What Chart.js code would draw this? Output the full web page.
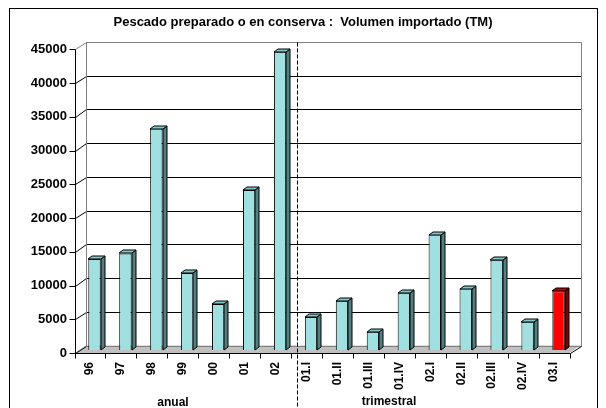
<!DOCTYPE html>
<html>
<head>
<meta charset="utf-8">
<script src="https://cdn.jsdelivr.net/npm/chart.js@4.4.1/dist/chart.umd.min.js"></script>
<style>
    html, body { margin: 0; padding: 0; background: #fff; }
</style>
</head>
<body>
<canvas id="grafico" width="606" height="408"></canvas>
<script>
var etichette = ['96', '97', '98', '99', '00', '01', '02', '01.I', '01.II', '01.III', '01.IV', '02.I', '02.II', '02.III', '02.IV', '03.I'];
var volumi = [13500, 14300, 32800, 11400, 6800, 23700, 44200, 4900, 7300, 2700, 8400, 17100, 9100, 13300, 4200, 8700];
var evidenziato = [false, false, false, false, false, false, false, false, false, false, false, false, false, false, false, true];
var gruppi = ['anual', 'trimestral'];
var titolo = 'Pescado preparado o en conserva :  Volumen importado (TM)';

var FONT = 'Arial, "Liberation Sans", sans-serif';
// spostamenti della prospettiva (px)
var PROF_X = 4, PROF_Y = -3;        // spessore barre
var RETRO_X = 6.5, RETRO_Y = -4.5;  // parete di fondo
var FRONTE_X = -4.5, FRONTE_Y = 3;  // bordo anteriore

var coloreFronte = evidenziato.map(function (e) { return e ? '#ff0000' : '#a0e0e0'; });
var coloreLato = evidenziato.map(function (e) { return e ? '#800000' : '#508080'; });
var coloreSopra = evidenziato.map(function (e) { return e ? '#c00000' : '#80c8c8'; });

function px(v) {
    return Math.round(v) + 0.5;
}

function linea(c, x1, y1, x2, y2, colore) {
    c.strokeStyle = colore;
    c.beginPath();
    c.moveTo(x1, y1);
    c.lineTo(x2, y2);
    c.stroke();
}

var tridimensionale = {
    id: 'tridimensionale',
    beforeDatasetsDraw: function (chart) {
        var c = chart.ctx;
        var a = chart.chartArea;
        var sy = chart.scales.y;
        var zero = sy.getPixelForValue(0);
        c.save();
        c.lineWidth = 1;

        // pavimento
        c.fillStyle = '#c0c0c0';
        c.beginPath();
        c.moveTo(a.left + FRONTE_X, zero + FRONTE_Y);
        c.lineTo(a.right + FRONTE_X, zero + FRONTE_Y);
        c.lineTo(a.right + RETRO_X, zero + RETRO_Y);
        c.lineTo(a.left + RETRO_X, zero + RETRO_Y);
        c.closePath();
        c.fill();

        // griglia su parete di fondo e parete sinistra
        sy.ticks.forEach(function (t) {
            var yp = sy.getPixelForValue(t.value);
            var yb = px(yp + RETRO_Y);
            var yf = px(yp + FRONTE_Y);
            var colore = (t.value === 0 || t.value === sy.max) ? '#808080' : '#000';
            linea(c, px(a.left + RETRO_X), yb, px(a.right + RETRO_X), yb, colore);
            linea(c, px(a.left + FRONTE_X), yf, px(a.left + RETRO_X), yb, t.value === 0 ? '#000' : colore);
            linea(c, px(a.left + FRONTE_X) - 6, yf, px(a.left + FRONTE_X), yf, '#000');
        });

        // bordi pareti
        var top = sy.getPixelForValue(sy.max);
        linea(c, px(a.left + RETRO_X), px(top + RETRO_Y), px(a.left + RETRO_X), px(zero + RETRO_Y), '#808080');
        linea(c, px(a.right + RETRO_X), px(top + RETRO_Y), px(a.right + RETRO_X), px(zero + RETRO_Y), '#808080');
        linea(c, px(a.left + FRONTE_X), px(top + FRONTE_Y), px(a.left + FRONTE_X), px(zero + FRONTE_Y), '#000');
        linea(c, px(a.left + FRONTE_X), px(zero + FRONTE_Y), px(a.right + FRONTE_X), px(zero + FRONTE_Y), '#000');
        linea(c, px(a.right + FRONTE_X), px(zero + FRONTE_Y), px(a.right + RETRO_X), px(zero + RETRO_Y), '#000');

        // tacche asse x
        var n = etichette.length;
        for (var i = 0; i <= n; i++) {
            var xt = px(a.left + i * a.width / n + FRONTE_X);
            linea(c, xt, px(zero + FRONTE_Y), xt, px(zero + FRONTE_Y) + 5, '#000');
        }
        c.restore();
    },
    afterDatasetsDraw: function (chart) {
        var c = chart.ctx;
        var a = chart.chartArea;
        var barre = chart.getDatasetMeta(0).data;
        c.save();
        c.lineWidth = 1;
        c.strokeStyle = '#000';
        barre.forEach(function (b, i) {
            var p = b.getProps(['x', 'y', 'base', 'width'], true);
            var sx = Math.round(p.x - p.width / 2);
            var dx = Math.round(p.x + p.width / 2);
            var alto = Math.round(p.y);
            var basso = Math.round(p.base);
            // lato destro
            c.fillStyle = coloreLato[i];
            c.beginPath();
            c.moveTo(dx, alto);
            c.lineTo(dx + PROF_X, alto + PROF_Y);
            c.lineTo(dx + PROF_X, basso + PROF_Y);
            c.lineTo(dx, basso);
            c.closePath();
            c.fill();
            c.stroke();
            // faccia superiore
            c.fillStyle = coloreSopra[i];
            c.beginPath();
            c.moveTo(sx, alto);
            c.lineTo(sx + PROF_X, alto + PROF_Y);
            c.lineTo(dx + PROF_X, alto + PROF_Y);
            c.lineTo(dx, alto);
            c.closePath();
            c.fill();
            c.stroke();
        });

        // separatore tratteggiato tra annuale e trimestrale
        var sx2 = chart.scales.x;
        var meta = (sx2.getPixelForValue(6) + sx2.getPixelForValue(7)) / 2;
        c.setLineDash([4, 2]);
        linea(c, Math.round(meta) + 1.5, px(a.top + RETRO_Y), Math.round(meta) + 1.5, chart.height, '#000');
        c.setLineDash([]);

        // titoli dei gruppi
        c.fillStyle = '#000';
        c.font = 'bold 12px ' + FONT;
        c.textAlign = 'center';
        c.textBaseline = 'middle';
        c.fillText(gruppi[0], 173, 403);
        c.fillText(gruppi[1], 389, 402);
        c.restore();
    },
    afterDraw: function (chart) {
        var c = chart.ctx;
        c.save();
        // titolo
        c.fillStyle = '#000';
        c.font = 'bold 13px ' + FONT;
        c.textAlign = 'center';
        c.textBaseline = 'middle';
        c.fillText(titolo, 303, 22);
        // cornice
        c.strokeStyle = '#000';
        c.lineWidth = 1;
        c.strokeRect(9.5, 8.5, 588, 420);
        c.restore();
    }
};

var ctx = document.getElementById('grafico');
var grafico = new Chart(ctx, {
    type: 'bar',
    data: {
        labels: etichette,
        datasets: [{
            data: volumi,
            backgroundColor: coloreFronte,
            borderColor: '#000',
            borderWidth: 1,
            barPercentage: 0.4,
            categoryPercentage: 1
        }]
    },
    options: {
        responsive: false,
        animation: false,
        layout: {
            padding: { left: 0, right: 32, top: 46.25, bottom: 0 }
        },
        plugins: {
            legend: { display: false },
            tooltip: { enabled: false },
            title: { display: false }
        },
        scales: {
            x: {
                grid: { display: false, drawTicks: false },
                border: { display: false },
                ticks: {
                    autoSkip: false,
                    minRotation: 90,
                    maxRotation: 90,
                    padding: 12,
                    labelOffset: FRONTE_X,
                    color: '#000',
                    font: { family: FONT, size: 12, weight: 'bold' }
                },
                afterFit: function (scala) {
                    scala.height = 58;
                }
            },
            y: {
                min: 0,
                max: 45000,
                grid: { display: false, drawTicks: false },
                border: { display: false },
                ticks: {
                    stepSize: 5000,
                    padding: 12,
                    labelOffset: FRONTE_Y,
                    color: '#000',
                    font: { family: FONT, size: 13, weight: 'bold' },
                    callback: function (v) {
                        return String(v);
                    }
                },
                afterFit: function (scala) {
                    scala.width = 79;
                }
            }
        }
    },
    plugins: [tridimensionale]
});
</script>
</body>
</html>
